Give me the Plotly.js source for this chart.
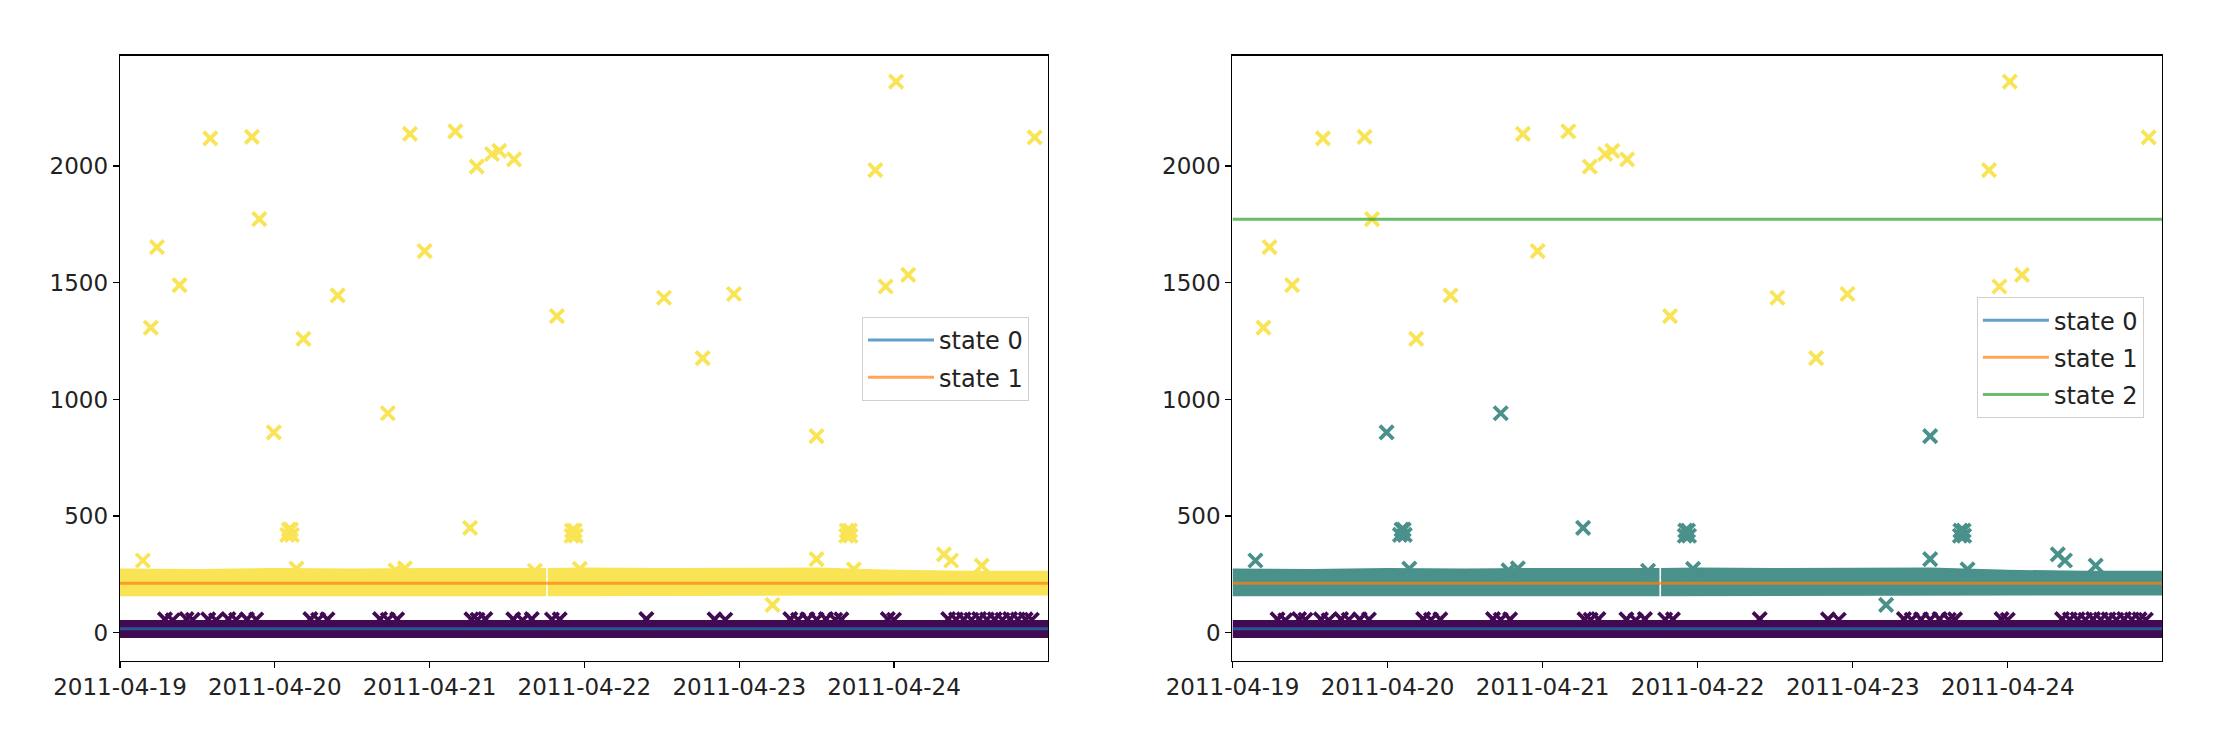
<!DOCTYPE html>
<html>
<head>
<meta charset="utf-8">
<script src="https://cdn.plot.ly/plotly-3.0.1.min.js"></script>
<style>html,body{margin:0;padding:0;background:#fff;}#chart{width:2220px;height:740px;}</style>
</head>
<body>
<div id="chart"></div>
<script>
// ---------------- data ----------------
// dense band of low readings (state 0), drawn as its visual envelope
const lowBandTimes = ['2011-04-19 00:00', '2011-04-20 00:00', '2011-04-21 00:00', '2011-04-22 00:00', '2011-04-23 00:00', '2011-04-24 00:00', '2011-04-25 00:00'];
const lowBandUpper = [55, 55, 55, 55, 55, 55, 55];
const lowBandLower = [-22, -22, -22, -22, -22, -22, -22];

// dense band of normal readings (~160-280), with a short gap on 2011-04-21
const midBandTimes = ['2011-04-19 00:00', '2011-04-19 12:00', '2011-04-20 00:00', '2011-04-20 12:00', '2011-04-21 00:00', '2011-04-21 12:00', '2011-04-21 18:05', null,
  '2011-04-21 18:20', '2011-04-22 00:00', '2011-04-22 12:00', '2011-04-23 00:00', '2011-04-23 12:00', '2011-04-24 00:00', '2011-04-24 12:00', '2011-04-25 00:00'];
const midBandUpper = [276, 274, 278, 276, 278, 278, 278, null, 278, 280, 278, 280, 280, 270, 266, 266];
const midBandLower = [157, 157, 157, 157, 157, 157, 157, null, 157, 157, 157, 157, 157, 160, 160, 160];

// state-0 points poking above the low band
const lowPointTimes = ['2011-04-19 06:58', '2011-04-19 08:10', '2011-04-19 10:19', '2011-04-19 11:17', '2011-04-19 13:41', '2011-04-19 14:53',
  '2011-04-19 16:48', '2011-04-19 18:00', '2011-04-19 19:41', '2011-04-19 21:07', '2011-04-20 05:31', '2011-04-20 06:43', '2011-04-20 08:10',
  '2011-04-20 16:19', '2011-04-20 17:31', '2011-04-20 18:58', '2011-04-21 06:29', '2011-04-21 07:26', '2011-04-21 08:38', '2011-04-21 12:58',
  '2011-04-21 14:24', '2011-04-21 15:50', '2011-04-21 18:58', '2011-04-21 20:10', '2011-04-22 09:36', '2011-04-22 20:10', '2011-04-22 21:50',
  '2011-04-23 07:55', '2011-04-23 09:07', '2011-04-23 10:34', '2011-04-23 12:00', '2011-04-23 13:26', '2011-04-23 14:53', '2011-04-23 15:50',
  '2011-04-23 23:02', '2011-04-24 00:00', '2011-04-24 08:24', '2011-04-24 09:36', '2011-04-24 10:48', '2011-04-24 12:00', '2011-04-24 13:12',
  '2011-04-24 14:24', '2011-04-24 15:36', '2011-04-24 16:48', '2011-04-24 18:00', '2011-04-24 19:12', '2011-04-24 20:24', '2011-04-24 21:22'];
const lowPointValues = [58, 54, 59, 56, 58, 54, 59, 56, 58, 57, 59, 56, 58, 59, 56, 58, 58, 56, 59, 58, 54, 59, 57, 58, 59, 58, 56,
  59, 56, 58, 57, 59, 56, 58, 59, 56, 59, 57, 58, 56, 59, 57, 58, 56, 59, 57, 58, 56];

// moderate readings (state 1 in the 3-state model)
const midPointTimes = ['2011-04-19 03:33', '2011-04-19 23:51', '2011-04-20 01:55', '2011-04-20 02:40', '2011-04-20 02:10', '2011-04-20 02:30',
  '2011-04-20 03:22', '2011-04-20 17:31', '2011-04-20 18:43', '2011-04-20 20:10', '2011-04-21 06:16', '2011-04-21 16:19',
  '2011-04-21 22:00', '2011-04-21 22:40', '2011-04-21 22:05', '2011-04-21 22:30', '2011-04-21 23:17', '2011-04-23 05:10',
  '2011-04-23 11:59', '2011-04-23 11:59', '2011-04-23 16:35', '2011-04-23 17:15', '2011-04-23 16:40', '2011-04-23 17:10',
  '2011-04-23 17:46', '2011-04-24 07:44', '2011-04-24 08:51', '2011-04-24 13:36'];
const midPointValues = [310, 859, 420, 420, 442, 442, 275, 941, 268, 276, 450, 266, 416, 416, 438, 438, 274, 120,
  843, 316, 416, 416, 438, 438, 272, 336, 310, 288];

// high readings (state 2 in the 3-state model)
const highPointTimes = ['2011-04-19 04:47', '2011-04-19 05:44', '2011-04-19 09:14', '2011-04-19 14:00', '2011-04-19 20:27', '2011-04-19 21:36',
  '2011-04-20 04:26', '2011-04-20 09:45', '2011-04-20 20:57', '2011-04-20 23:14', '2011-04-21 03:59', '2011-04-21 07:18',
  '2011-04-21 09:40', '2011-04-21 10:48', '2011-04-21 13:05', '2011-04-21 19:44', '2011-04-22 12:20', '2011-04-22 18:20',
  '2011-04-22 23:11', '2011-04-23 21:06', '2011-04-23 22:42', '2011-04-24 00:19', '2011-04-24 02:12', '2011-04-24 21:48'];
const highPointValues = [1308, 1653, 1490, 2119, 2125, 1773, 1260, 1446, 2138, 1636, 2149, 1998,
  2052, 2065, 2029, 1357, 1436, 1177, 1452, 1983, 1484, 2362, 1534, 2123];

// state means
const stateNames2 = ['state 0', 'state 1'];
const stateMeans2 = [18, 212];
const stateNames3 = ['state 0', 'state 1', 'state 2'];
const stateMeans3 = [18, 212, 1772];

const xTickLabels = ['2011-04-19', '2011-04-20', '2011-04-21', '2011-04-22', '2011-04-23', '2011-04-24'];
const yTickValues = [0, 500, 1000, 1500, 2000];

// ---------------- styling ----------------
const PURPLE = '#420a52';
const TEAL = '#4a918c';
const YELLOW = '#f8e455';
const LINE_COLORS = ['rgba(31,119,180,0.7)', 'rgba(255,127,14,0.7)', 'rgba(44,160,44,0.7)'];
const X_START = '2011-04-19 00:00', X_END = '2011-04-24 23:52';
const FONT = {family: 'DejaVu Sans', size: 23, color: '#222'};
const LEGEND_FONT = {family: 'DejaVu Sans', size: 24, color: '#222'};

function bandPolygon(times, upper, lower) {
  const xs = [], ys = [];
  let seg = [];
  const flush = () => {
    if (!seg.length) return;
    if (xs.length) { xs.push(null); ys.push(null); }
    seg.forEach(i => { xs.push(times[i]); ys.push(upper[i]); });
    seg.slice().reverse().forEach(i => { xs.push(times[i]); ys.push(lower[i]); });
    seg = [];
  };
  times.forEach((t, i) => { if (t === null) flush(); else seg.push(i); });
  flush();
  return {x: xs, y: ys};
}

function bandTrace(poly, color, xa, ya) {
  return {type: 'scatter', mode: 'lines', x: poly.x, y: poly.y, fill: 'toself', fillcolor: color,
    line: {width: 0, color: color}, hoverinfo: 'skip', showlegend: false, xaxis: xa, yaxis: ya};
}
function pointTrace(xs, ys, color, xa, ya) {
  return {type: 'scatter', mode: 'markers', x: xs, y: ys, showlegend: false, xaxis: xa, yaxis: ya,
    marker: {symbol: 'x-thin', size: 13.5, line: {width: 3.8, color: color}, color: color}};
}
function meanTraces(names, means, xa, ya, legendId) {
  return names.map((n, i) => ({type: 'scatter', mode: 'lines', name: n, x: [X_START, X_END], y: [means[i], means[i]],
    line: {color: LINE_COLORS[i], width: 3}, xaxis: xa, yaxis: ya, legend: legendId, legendgroup: legendId + n}));
}

const lowPoly = bandPolygon(lowBandTimes, lowBandUpper, lowBandLower);
const midPoly = bandPolygon(midBandTimes, midBandUpper, midBandLower);

const traces = [
  // left: 2-state model
  bandTrace(lowPoly, PURPLE, 'x', 'y'),
  bandTrace(midPoly, YELLOW, 'x', 'y'),
  pointTrace(lowPointTimes, lowPointValues, PURPLE, 'x', 'y'),
  pointTrace(midPointTimes, midPointValues, YELLOW, 'x', 'y'),
  pointTrace(highPointTimes, highPointValues, YELLOW, 'x', 'y'),
  ...meanTraces(stateNames2, stateMeans2, 'x', 'y', 'legend'),
  // right: 3-state model
  bandTrace(lowPoly, PURPLE, 'x2', 'y2'),
  bandTrace(midPoly, TEAL, 'x2', 'y2'),
  pointTrace(lowPointTimes, lowPointValues, PURPLE, 'x2', 'y2'),
  pointTrace(midPointTimes, midPointValues, TEAL, 'x2', 'y2'),
  pointTrace(highPointTimes, highPointValues, YELLOW, 'x2', 'y2'),
  ...meanTraces(stateNames3, stateMeans3, 'x2', 'y2', 'legend2'),
];

const tickVals = xTickLabels.map(s => s + ' 00:00');
function xAxis(domain, anchor) {
  return {domain: domain, anchor: anchor, type: 'date', range: [X_START, X_END], tickvals: tickVals, ticktext: xTickLabels,
    showgrid: false, zeroline: false, showline: true, mirror: true, linecolor: '#000', linewidth: 1.3,
    ticks: 'outside', ticklen: 6, tickwidth: 1.3, tickcolor: '#000', tickfont: FONT};
}
function yAxis(anchor) {
  return {domain: [0.1073, 0.9247], anchor: anchor, range: [-119, 2473], tickvals: yTickValues,
    showgrid: false, zeroline: false, showline: true, mirror: true, linecolor: '#000', linewidth: 1.3,
    ticks: 'outside', ticklen: 6, tickwidth: 1.3, tickcolor: '#000', tickfont: FONT};
}
const legendBase = {font: LEGEND_FONT, bgcolor: 'rgba(255,255,255,0.85)', bordercolor: '#d0d0d0', borderwidth: 1,
  xref: 'paper', yref: 'paper', xanchor: 'left', yanchor: 'top', itemwidth: 66,
  traceorder: 'grouped', tracegroupgap: 3};

const layout = {
  width: 2220, height: 740, margin: {l: 0, r: 0, t: 0, b: 0},
  paper_bgcolor: '#fff', plot_bgcolor: '#fff', font: FONT,
  xaxis: xAxis([0.05405, 0.47207], 'y'),
  yaxis: yAxis('x'),
  xaxis2: xAxis([0.55518, 0.97387], 'y2'),
  yaxis2: yAxis('x2'),
  legend: Object.assign({x: 0.3883, y: 0.5716}, legendBase),
  legend2: Object.assign({x: 0.8905, y: 0.5986}, legendBase),
};

Plotly.newPlot('chart', traces, layout, {staticPlot: true});
</script>
</body>
</html>
